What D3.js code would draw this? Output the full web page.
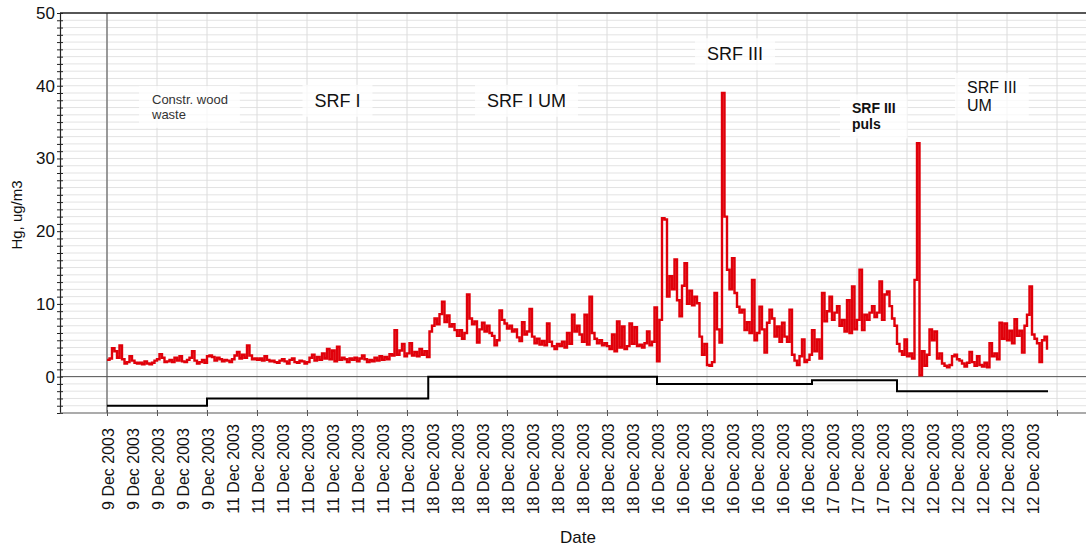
<!DOCTYPE html>
<html><head><meta charset="utf-8">
<script src="https://cdn.jsdelivr.net/npm/d3@7"></script>
<style>
body{margin:0;background:#fff;}
text{font-family:"Liberation Sans",Arial,sans-serif;}
</style></head>
<body>
<script>
// ---- data ----
const dateLabels = [
 "9 Dec 2003","9 Dec 2003","9 Dec 2003","9 Dec 2003","9 Dec 2003",
 "11 Dec 2003","11 Dec 2003","11 Dec 2003","11 Dec 2003","11 Dec 2003","11 Dec 2003","11 Dec 2003","11 Dec 2003",
 "18 Dec 2003","18 Dec 2003","18 Dec 2003","18 Dec 2003","18 Dec 2003","18 Dec 2003","18 Dec 2003","18 Dec 2003","18 Dec 2003",
 "16 Dec 2003","16 Dec 2003","16 Dec 2003","16 Dec 2003","16 Dec 2003","16 Dec 2003","16 Dec 2003",
 "17 Dec 2003","17 Dec 2003","17 Dec 2003",
 "12 Dec 2003","12 Dec 2003","12 Dec 2003","12 Dec 2003","12 Dec 2003","12 Dec 2003"
];
const yTickLabels = [0,10,20,30,40,50];
const hgValues = [
 2.3,2.5,3.9,3.5,2.6,4.3,2.4,1.8,2.0,2.8,2.2,1.9,1.8,1.9,1.7,2.1,1.8,1.7,1.9,2.2,
 2.4,3.1,2.6,2.0,2.1,2.3,2.0,2.6,2.2,2.8,2.1,2.0,2.3,2.6,3.5,2.2,1.8,2.0,2.3,1.9,
 2.8,2.9,2.7,2.2,2.6,2.4,2.1,2.3,2.2,2.0,2.4,2.9,3.4,2.5,3.0,2.6,4.3,2.9,2.4,2.5,
 2.3,2.5,2.2,2.8,2.3,2.1,2.2,2.0,1.9,2.2,2.4,2.1,1.8,2.3,2.5,2.0,1.9,2.2,2.1,1.8,
 2.0,2.6,3.0,2.2,2.7,2.3,3.2,2.5,3.8,2.4,3.6,2.1,4.1,2.3,2.6,2.4,2.0,2.5,2.3,2.6,
 2.1,2.5,2.9,2.4,2.0,2.3,2.1,2.6,2.2,2.8,2.3,2.7,2.4,3.1,2.9,6.4,3.0,3.6,4.5,2.8,
 3.2,4.6,2.9,3.4,2.8,3.8,3.0,3.5,2.7,6.2,7.0,8.0,7.2,8.6,10.3,7.5,8.4,6.9,7.2,6.4,
 5.6,6.4,5.2,6.0,11.3,8.0,7.2,7.6,4.7,6.5,7.4,6.2,7.0,6.0,5.6,4.3,5.0,9.1,7.8,7.3,
 6.6,7.0,6.2,6.5,5.4,4.9,7.5,5.8,6.2,9.3,5.5,4.6,5.2,4.4,4.9,4.3,7.3,4.8,4.2,3.8,
 4.5,4.2,4.8,4.0,6.0,4.5,8.5,6.2,7.0,5.8,4.8,8.5,4.4,11.0,6.0,5.2,4.6,5.0,4.3,4.6,
 4.2,3.8,5.8,3.5,7.6,4.0,6.9,3.8,4.2,7.3,4.5,6.8,4.2,4.4,4.0,4.6,6.2,4.3,4.8,9.5,
 2.1,7.8,21.8,21.6,11.0,13.8,12.0,16.1,10.5,8.3,12.5,15.6,10.0,11.8,9.8,11.0,10.1,5.5,3.0,4.5,
 1.6,1.5,2.0,11.5,6.5,4.7,39.0,22.0,14.7,12.0,16.3,11.5,9.6,8.8,9.2,6.4,7.5,6.0,13.3,5.0,
 6.0,9.6,6.5,3.3,7.4,9.2,8.0,5.5,6.9,4.8,7.4,5.5,4.8,9.2,3.0,2.2,1.6,2.8,5.1,2.0,
 2.3,3.0,6.4,3.5,5.1,2.5,11.5,7.6,9.0,11.0,7.8,8.8,9.7,7.0,7.8,6.2,10.5,6.0,12.4,6.5,
 7.8,14.7,6.4,8.5,7.8,8.8,9.7,8.2,8.8,13.1,7.8,11.3,11.7,9.7,8.0,7.0,4.5,3.5,3.0,5.1,
 2.8,3.2,2.5,13.3,32.1,0.2,3.5,1.5,3.0,6.5,5.0,6.2,2.5,3.2,1.8,1.5,1.3,1.6,2.8,3.0,
 2.4,2.2,1.8,1.4,1.9,3.4,2.0,1.5,2.8,1.6,1.4,1.9,1.3,4.6,2.8,3.2,2.4,7.4,5.2,7.3,
 5.0,6.3,4.6,7.9,5.6,6.3,3.3,7.0,8.5,12.4,5.8,5.2,4.6,2.0,5.0,5.5,3.7
];
// step (fuel phase) line
const stepStarts = [0, 40, 128.5, 220, 282, 316, 376.4];
const stepValues = [-4, -3, 0, -1, -0.5, -2, -2];
const annotations = [
 {lines:["Constr. wood","waste"], t:18, v:37.5, size:13, weight:"normal", color:"#333"},
 {lines:["SRF I"], t:83, v:37.1, size:18, weight:"normal", color:"#111"},
 {lines:["SRF I UM"], t:152, v:37.1, size:18, weight:"normal", color:"#111"},
 {lines:["SRF III"], t:240, v:43.5, size:18, weight:"normal", color:"#111"},
 {lines:["SRF III","puls"], t:298, v:36.2, size:14, weight:"bold", color:"#111"},
 {lines:["SRF III","UM"], t:344, v:39.0, size:16, weight:"normal", color:"#111"}
];

// ---- chart ----
const W = 1086, H = 548;
const pLeft = 60, pRight = 1086, pTop = 13, pBottom = 413;
const svg = d3.select("body").append("svg").attr("width", W).attr("height", H);
const x = d3.scaleLinear().domain([0, 380]).range([107, 1057]);
const y = d3.scaleLinear().domain([-5, 50]).range([pBottom, pTop]);

// horizontal grid
svg.append("g").selectAll("line").data(d3.range(-5, 51)).join("line")
  .attr("x1", pLeft).attr("x2", pRight)
  .attr("y1", d => y(d)).attr("y2", d => y(d))
  .attr("stroke", "#e3e3e3").attr("stroke-width", 1);
// vertical grid
svg.append("g").selectAll("line").data(d3.range(0, 381, 20)).join("line")
  .attr("x1", d => x(d)).attr("x2", d => x(d))
  .attr("y1", pTop).attr("y2", pBottom)
  .attr("stroke", d => d === 0 ? "#808080" : "#dcdcdc")
  .attr("stroke-width", d => d === 0 ? 1.6 : 1);

// annotation boxes + text
annotations.forEach(a => {
  const g = svg.append("g");
  const tx = x(a.t), ty = y(a.v);
  const lh = a.size * 1.15;
  const txt = g.append("text").attr("x", tx).attr("y", ty)
    .attr("font-size", a.size).attr("font-weight", a.weight).attr("fill", a.color);
  a.lines.forEach((l, i) => txt.append("tspan").attr("x", tx).attr("dy", i === 0 ? 0 : lh).text(l));
  const bb = txt.node().getBBox();
  g.insert("rect", "text").attr("x", bb.x - 12).attr("y", bb.y - 6)
    .attr("width", bb.width + 24).attr("height", bb.height + 12)
    .attr("fill", "#fff").attr("opacity", 0.75);
});

// top frame line
svg.append("line").attr("x1", pLeft).attr("x2", pRight).attr("y1", pTop).attr("y2", pTop)
  .attr("stroke", "#222").attr("stroke-width", 1.3);
// zero line
svg.append("line").attr("x1", pLeft).attr("x2", pRight).attr("y1", y(0)).attr("y2", y(0))
  .attr("stroke", "#555").attr("stroke-width", 1);

// step line
const stepData = stepStarts.map((t, i) => ({t, v: stepValues[i]}));
svg.append("path").datum(stepData)
  .attr("d", d3.line().x(d => x(d.t)).y(d => y(d.v)).curve(d3.curveStepAfter))
  .attr("fill", "none").attr("stroke", "#000").attr("stroke-width", 2);

// Hg line
const hgData = hgValues.map((v, i) => ({t: i, v}));
svg.append("path").datum(hgData)
  .attr("d", d3.line().x(d => x(d.t)).y(d => y(d.v)).curve(d3.curveStepAfter))
  .attr("fill", "none").attr("stroke", "#e0000a").attr("stroke-width", 2.4).attr("stroke-linejoin", "miter");

// y axis
const yAxis = svg.append("g").attr("transform", `translate(${pLeft},0)`)
  .call(d3.axisLeft(y).tickValues(d3.range(-5, 51))
    .tickFormat(d => yTickLabels.includes(d) ? d : "").tickSize(3).tickPadding(2));
yAxis.select(".domain").attr("stroke", "#222").attr("stroke-width", 1.2);
yAxis.selectAll(".tick line").attr("x1", 3).attr("x2", -3).attr("stroke", "#222");
yAxis.selectAll(".tick text").attr("font-size", 17).attr("fill", "#111")
  .attr("font-family", "Liberation Sans, Arial, sans-serif");

// x axis (ticks)
const xAxis = svg.append("g").attr("transform", `translate(0,${pBottom})`)
  .call(d3.axisBottom(x).tickValues(d3.range(0, 381, 20)).tickFormat("").tickSize(3));
xAxis.select(".domain").remove();
xAxis.selectAll(".tick line").attr("y1", -3).attr("y2", 3).attr("stroke", "#555");
svg.append("line").attr("x1", pLeft).attr("x2", pRight).attr("y1", pBottom).attr("y2", pBottom)
  .attr("stroke", "#666").attr("stroke-width", 1.2);

// x labels
const xLab = svg.append("g").attr("transform", `translate(0,${pBottom})`)
  .call(d3.axisBottom(x).tickValues(d3.range(0, 371, 10)).tickFormat((d, i) => dateLabels[i]).tickSize(0));
xLab.select(".domain").remove();
xLab.selectAll(".tick text")
  .attr("font-size", 16).attr("fill", "#111").attr("font-family", "Liberation Sans, Arial, sans-serif")
  .attr("text-anchor", "middle").attr("transform", "translate(1,56) rotate(-90)")
  .attr("x", 0).attr("y", 0).attr("dy", "0.35em");

// titles
svg.append("text").attr("transform", `translate(22,215) rotate(-90)`)
  .attr("text-anchor", "middle").attr("font-size", 15).attr("fill", "#111").text("Hg, ug/m3");
svg.append("text").attr("x", 578).attr("y", 543)
  .attr("text-anchor", "middle").attr("font-size", 17).attr("fill", "#111").text("Date");
</script>
</body></html>
